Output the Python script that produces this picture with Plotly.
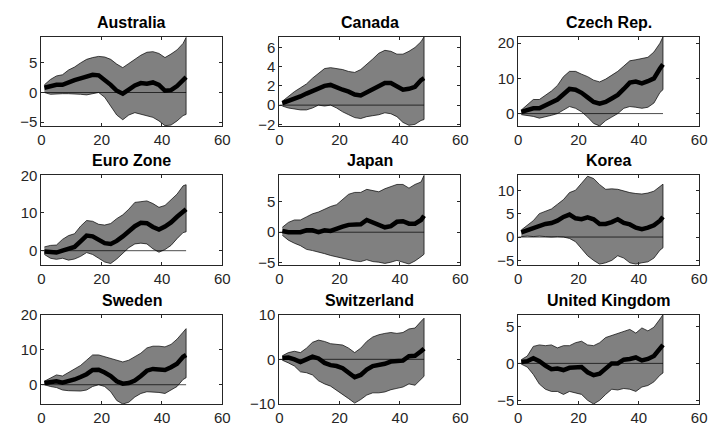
import plotly.graph_objects as go

H = [1, 3, 5, 7, 9, 11, 13, 15, 17, 19, 21, 23, 25, 27, 29, 31, 33, 35, 37, 39, 41, 43, 45, 47, 48]

countries = ["Australia", "Canada", "Czech Rep.", "Euro Zone", "Japan", "Korea",
             "Sweden", "Switzerland", "United Kingdom"]

aus_med = [0.8, 1.0, 1.3, 1.3, 1.8, 2.1, 2.4, 2.7, 3.0, 2.9, 2.2, 1.3, 0.3, -0.2, 0.5, 1.2, 1.6, 1.5, 1.7, 1.3, 0.3, 0.4, 1.1, 2.0, 2.6]
aus_up = [1.3, 2.2, 2.8, 3.0, 3.8, 4.3, 5.0, 5.6, 5.9, 6.1, 6.0, 5.6, 4.8, 4.2, 4.9, 5.6, 6.3, 6.8, 6.9, 6.6, 5.9, 6.5, 7.2, 8.3, 9.3]
aus_lo = [0.0, -0.3, -0.3, -0.2, -0.2, -0.2, -0.3, -0.4, -0.2, 0.0, -0.8, -2.3, -3.8, -4.6, -3.8, -3.4, -3.6, -3.9, -4.2, -4.8, -5.6, -5.5, -4.8, -3.9, -3.7]

can_med = [0.2, 0.4, 0.6, 0.9, 1.2, 1.5, 1.8, 2.0, 2.1, 1.8, 1.6, 1.4, 1.1, 1.0, 1.3, 1.6, 2.0, 2.3, 2.3, 2.0, 1.6, 1.7, 1.9, 2.6, 2.8]
can_up = [0.4, 0.9, 1.4, 1.8, 2.2, 2.8, 3.3, 3.8, 3.9, 3.8, 3.7, 3.5, 3.4, 3.7, 4.2, 4.8, 5.4, 5.7, 5.6, 5.3, 5.3, 5.6, 6.0, 6.6, 7.1]
can_lo = [-0.1, -0.3, -0.4, -0.5, -0.5, -0.3, 0.0, -0.1, 0.0, -0.3, -0.7, -1.0, -1.3, -1.4, -1.2, -1.1, -1.0, -0.8, -0.9, -1.2, -1.8, -2.1, -2.0, -1.6, -1.5]

cze_med = [0.5, 1.0, 1.5, 1.5, 2.3, 3.0, 4.0, 5.5, 7.0, 6.8, 5.9, 4.6, 3.3, 2.8, 3.3, 4.3, 5.3, 7.0, 8.8, 9.1, 8.6, 9.2, 10.0, 12.8, 14.0]
cze_up = [1.0, 2.5, 4.0, 4.0, 5.2, 6.4, 8.0, 10.5, 12.0, 12.0, 11.2, 10.5, 9.5, 9.0, 9.8, 11.0, 12.0, 13.5, 15.0, 15.3, 15.6, 16.0, 17.5, 20.0, 21.8]
cze_lo = [-0.3, -0.6, -0.8, -1.3, -1.0, -0.5, 0.0, 1.0, 2.0, 1.5, 0.5, -1.0, -2.8, -3.5, -2.0, -1.0, 0.0, 1.5, 2.0, 1.8, 1.5, 1.8, 3.0, 6.0, 6.8]

eur_med = [-0.2, -0.4, -0.5, 0.0, 0.5, 1.0, 2.5, 4.0, 3.8, 2.8, 2.0, 1.8, 2.6, 3.8, 5.2, 6.5, 7.4, 7.3, 6.3, 5.6, 6.4, 7.5, 9.0, 10.5, 11.0]
eur_up = [1.0, 1.4, 1.5, 3.0, 4.0, 4.5, 6.5, 8.0, 7.8, 7.0, 6.8, 7.2, 8.5, 9.5, 11.0, 12.8, 13.0, 13.2, 12.5, 11.5, 12.0, 13.5, 15.0, 17.2, 17.5]
eur_lo = [-1.0, -2.0, -2.3, -2.0, -2.5, -2.2, -1.5, -0.5, -1.0, -2.0, -3.0, -3.4, -2.2, -0.8, 0.8, 1.8, 2.0, 1.8, 0.5, -0.4, 0.3, 1.4, 3.2, 4.8, 5.0]

jpn_med = [0.2, 0.0, 0.0, 0.0, 0.3, 0.3, 0.0, 0.3, 0.2, 0.6, 0.9, 1.2, 1.2, 1.3, 2.0, 1.6, 1.2, 0.8, 1.0, 1.7, 1.8, 1.4, 1.4, 2.0, 2.7]
jpn_up = [0.8, 1.6, 2.0, 2.0, 2.5, 3.0, 3.3, 3.8, 4.2, 4.5, 5.3, 6.2, 6.5, 6.5, 7.0, 6.8, 6.6, 7.1, 7.5, 7.8, 7.8, 7.2, 7.8, 8.2, 9.3]
jpn_lo = [-0.5, -1.3, -1.8, -2.2, -2.8, -3.0, -3.2, -3.5, -3.8, -4.0, -4.2, -4.5, -4.7, -4.8, -4.5, -4.8, -4.9, -5.1, -4.9, -4.6, -4.9, -5.2, -4.7, -4.0, -3.6]

kor_med = [1.0, 1.5, 2.0, 2.3, 2.8, 3.0, 3.5, 4.3, 4.8, 4.0, 3.8, 4.2, 3.8, 2.8, 2.8, 3.2, 3.8, 3.0, 2.7, 2.0, 1.7, 2.0, 2.5, 3.5, 4.3]
kor_up = [1.5, 2.5, 3.5, 5.0, 5.5, 6.0, 7.0, 8.0, 9.5, 10.0, 11.5, 13.0, 12.5, 11.2, 10.2, 10.3, 10.2, 9.8, 9.5, 9.3, 9.2, 9.4, 9.8, 10.8, 11.3]
kor_lo = [0.1, 0.2, 0.1, 0.2, 0.1, 0.0, 0.1, 0.0, -0.3, -1.0, -2.5, -4.0, -5.0, -5.8, -5.5, -5.0, -4.0, -4.5, -5.5, -5.8, -5.5, -5.3, -4.5, -2.8, -2.3]

swe_med = [0.5, 0.8, 1.0, 0.6, 1.0, 1.5, 2.2, 3.0, 4.2, 4.3, 3.5, 2.5, 1.0, 0.3, 0.5, 1.2, 2.5, 4.0, 4.5, 4.5, 4.2, 5.0, 6.0, 8.0, 8.5]
swe_up = [1.0, 2.0, 2.8, 2.5, 3.5, 4.5, 5.5, 7.0, 8.5, 8.5, 8.0, 7.5, 7.0, 6.5, 7.0, 8.0, 9.0, 10.5, 11.0, 11.0, 10.8, 11.5, 13.0, 15.0, 16.0]
swe_lo = [0.0, -0.5, -0.8, -1.5, -1.7, -1.8, -1.8, -1.5, -0.5, 0.0, -0.5, -2.0, -4.5, -5.5, -5.0, -3.5, -2.5, -2.0, -2.0, -2.2, -2.5, -1.5, -0.5, 1.5, 2.0]

che_med = [0.3, 0.4, 0.0, -0.6, 0.0, 0.6, 0.2, -0.8, -1.3, -1.5, -2.0, -3.0, -4.0, -3.5, -2.3, -1.5, -1.3, -1.0, -0.5, -0.3, -0.3, 0.7, 0.8, 1.8, 2.4]
che_up = [0.8, 1.5, 1.8, 1.5, 2.5, 3.8, 4.3, 4.0, 3.5, 3.3, 3.2, 2.5, 1.5, 2.5, 4.0, 5.0, 5.5, 5.8, 6.0, 5.8, 6.0, 6.8, 7.0, 8.5, 9.2]
che_lo = [-0.2, -0.8, -1.5, -2.8, -3.0, -3.5, -4.8, -5.5, -6.0, -6.8, -7.8, -8.8, -9.8, -9.0, -8.0, -7.5, -7.5, -7.3, -6.8, -6.5, -6.2, -5.5, -5.8, -4.5, -3.8]

gbr_med = [0.2, 0.3, 0.7, 0.3, -0.3, -0.8, -0.7, -0.9, -0.6, -0.5, -0.5, -1.2, -1.6, -1.4, -0.6, 0.0, 0.0, 0.5, 0.6, 0.8, 0.4, 0.6, 1.0, 2.0, 2.5]
gbr_up = [0.5, 1.0, 2.3, 2.5, 2.4, 2.5, 2.1, 2.4, 2.4, 2.8, 3.0, 2.5, 2.4, 2.8, 3.5, 3.8, 4.1, 4.3, 4.6, 4.1, 4.8, 4.4, 4.9, 6.0, 6.6]
gbr_lo = [-0.1, -0.5, -1.5, -2.8, -3.5, -3.8, -3.8, -4.2, -3.8, -4.0, -4.2, -5.0, -5.5, -5.0, -4.2, -3.5, -3.6, -3.4, -3.5, -3.8, -3.2, -3.0, -2.5, -1.6, -1.3]

medians = [aus_med, can_med, cze_med, eur_med, jpn_med, kor_med, swe_med, che_med, gbr_med]
uppers = [aus_up, can_up, cze_up, eur_up, jpn_up, kor_up, swe_up, che_up, gbr_up]
lowers = [aus_lo, can_lo, cze_lo, eur_lo, jpn_lo, kor_lo, swe_lo, che_lo, gbr_lo]

y_ranges = [[-5.7, 9.4], [-2.2, 7.1], [-3.6, 21.8], [-3.7, 20], [-5.3, 9.3],
            [-5.9, 13.2], [-5.5, 20], [-10, 10], [-5.5, 6.6]]
y_dticks = [5, 2, 10, 10, 5, 5, 10, 10, 5]
x_ticks = [0, 20, 40, 60]
zero_x = [0, 48]

W, Ht = 717, 437
col_left = [38, 280, 523]
row_top = [29, 173, 318]
aw, ah = 184, 93

fig = go.Figure()
font_family = "Liberation Sans, Arial, Helvetica, sans-serif"
axcol = "#262626"
annotations = []

for i, name in enumerate(countries):
    r, c = divmod(i, 3)
    n = i + 1
    xa = "x" if n == 1 else f"x{n}"
    ya = "y" if n == 1 else f"y{n}"
    # band
    fig.add_trace(go.Scatter(
        x=H + H[::-1], y=uppers[i] + lowers[i][::-1],
        fill="toself", fillcolor="rgb(128,128,128)",
        line=dict(color="black", width=0.7), mode="lines",
        xaxis=xa, yaxis=ya, showlegend=False, hoverinfo="skip"))
    # zero line
    fig.add_trace(go.Scatter(
        x=zero_x, y=[0, 0], mode="lines",
        line=dict(color="black", width=0.7),
        xaxis=xa, yaxis=ya, showlegend=False))
    # median
    fig.add_trace(go.Scatter(
        x=H, y=medians[i], mode="lines",
        line=dict(color="black", width=4.5),
        xaxis=xa, yaxis=ya, showlegend=False))

    x0 = col_left[c] / W
    x1 = (col_left[c] + aw) / W
    y1 = 1 - row_top[r] / Ht
    y0 = 1 - (row_top[r] + ah) / Ht
    common = dict(showline=True, linecolor=axcol, linewidth=0.8, mirror="ticks",
                  ticks="inside", ticklen=3, tickwidth=0.8, tickcolor=axcol,
                  showgrid=False, zeroline=False,
                  tickfont=dict(family=font_family, size=15, color=axcol))
    fig.update_layout(**{
        ("xaxis" if n == 1 else f"xaxis{n}"): dict(
            domain=[x0, x1], range=[0, 60], tickvals=x_ticks,
            anchor=ya, **common),
        ("yaxis" if n == 1 else f"yaxis{n}"): dict(
            domain=[y0, y1], range=y_ranges[i], dtick=y_dticks[i], tick0=0,
            anchor=xa, **common),
    })
    annotations.append(dict(
        text=f"<b>{name}</b>", x=(x0 + x1) / 2, y=y1, xref="paper", yref="paper",
        xanchor="center", yanchor="bottom", yshift=4, showarrow=False,
        font=dict(family=font_family, size=16, color="black")))

fig.update_layout(
    width=W, height=Ht, margin=dict(l=0, r=0, t=0, b=0),
    paper_bgcolor="white", plot_bgcolor="white",
    annotations=annotations, showlegend=False)

fig.write_html("out.html")
